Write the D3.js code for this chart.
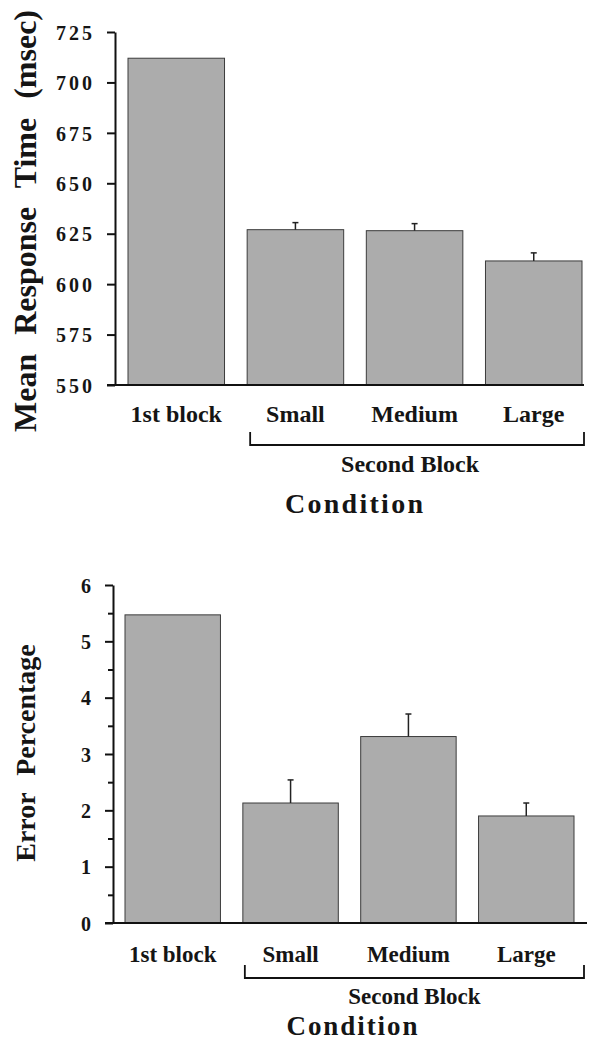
<!DOCTYPE html>
<html>
    <head>
        <meta charset="utf-8">
        <title>Response time and errors</title>
        <script src="https://d3js.org/d3.v7.min.js"></script>
        <style>
        body {
            margin: 0;
            background: #fff;
        }
        text {
            font-family: "Liberation Serif", "Times New Roman", serif;
            font-weight: bold;
            fill: #151515;
        }
        .bar {
            fill: #acacac;
            stroke: #3c3c3c;
            stroke-width: 1px;
        }
        .err {
            stroke: #222;
            stroke-width: 1.5px;
        }
        .axis path, .axis line, .line {
            stroke: #111;
            stroke-width: 2px;
            fill: none;
        }
        </style>
    </head>
    <body>
        <script>

            // ************** data *****************
            var categories = ["1st block", "Small", "Medium", "Large"];
            var groupLabel = "Second Block";

            var rtMeans = [712, 627, 626.5, 611.5];
            var rtErrors = [null, 3.5, 3.5, 4];
            var rtTicks = [550, 575, 600, 625, 650, 675, 700, 725];

            var errMeans = [5.47, 2.13, 3.31, 1.90];
            var errErrors = [null, 0.41, 0.40, 0.23];
            var errTicks = [0, 1, 2, 3, 4, 5, 6];
            var errMinor = [0.5, 1.5, 2.5, 3.5, 4.5, 5.5];

            var svg = d3.select("body").append("svg")
                .attr("width", 592)
                .attr("height", 1041);

            // ************** one panel *****************
            function drawPanel(p) {
                var g = svg.append("g");

                var y = d3.scaleLinear().domain(p.domain).range([p.bottom, p.top]);
                var x = d3.scaleBand().domain(categories)
                    .range([p.left, p.right])
                    .paddingInner(0.19)
                    .paddingOuter(0);

                var rows = categories.map(function(c, i) {
                    return {name: c, value: p.means[i], err: p.errors[i]};
                });

                // bars
                g.selectAll("rect.bar")
                    .data(rows)
                    .enter().append("rect")
                    .attr("class", "bar")
                    .attr("x", function(d) { return x(d.name); })
                    .attr("width", x.bandwidth())
                    .attr("y", function(d) { return y(d.value); })
                    .attr("height", function(d) { return y(p.domain[0]) - y(d.value); });

                // error bars (only upper half drawn)
                var eb = g.selectAll("g.eb")
                    .data(rows.filter(function(d) { return d.err != null; }))
                    .enter().append("g")
                    .attr("class", "eb");
                eb.append("line")
                    .attr("class", "err")
                    .attr("x1", function(d) { return x(d.name) + x.bandwidth() / 2; })
                    .attr("x2", function(d) { return x(d.name) + x.bandwidth() / 2; })
                    .attr("y1", function(d) { return y(d.value); })
                    .attr("y2", function(d) { return y(d.value + d.err); });
                eb.append("line")
                    .attr("class", "err")
                    .attr("x1", function(d) { return x(d.name) + x.bandwidth() / 2 - 3; })
                    .attr("x2", function(d) { return x(d.name) + x.bandwidth() / 2 + 3; })
                    .attr("y1", function(d) { return y(d.value + d.err); })
                    .attr("y2", function(d) { return y(d.value + d.err); });

                // y axis
                var axis = g.append("g")
                    .attr("class", "axis")
                    .attr("transform", "translate(" + p.axisX + ",0)")
                    .call(d3.axisLeft(y).tickValues(p.ticks).tickSize(8).tickSizeOuter(0)
                        .tickPadding(p.tickPad).tickFormat(d3.format("d")))
                    .attr("font-family", null)
                    .attr("font-size", null);
                axis.selectAll("text")
                    .style("font-size", p.tickFont + "px")
                    .style("letter-spacing", p.tickSpacing + "px")
                    .attr("dy", "0.36em");

                if (p.minor) {
                    g.append("g")
                        .attr("class", "axis")
                        .attr("transform", "translate(" + p.axisX + ",0)")
                        .call(d3.axisLeft(y).tickValues(p.minor).tickSize(5).tickFormat(""))
                        .select(".domain").remove();
                }

                // baseline
                g.append("line")
                    .attr("class", "line")
                    .attr("x1", p.axisX - 8)
                    .attr("x2", p.baseEnd)
                    .attr("y1", y(p.domain[0]))
                    .attr("y2", y(p.domain[0]));

                // category labels
                g.selectAll("text.cat")
                    .data(categories)
                    .enter().append("text")
                    .attr("class", "cat")
                    .attr("text-anchor", "middle")
                    .attr("x", function(d) { return x(d) + x.bandwidth() / 2; })
                    .attr("y", p.catY)
                    .style("font-size", p.catFont + "px")
                    .text(function(d) { return d; });

                // bracket under the second block
                var bx0 = x(categories[1]) + p.brL;
                var bx1 = x(categories[3]) + x.bandwidth() + p.brR;
                g.append("path")
                    .attr("d", "M" + bx0 + "," + p.brTop + "V" + p.brY + "H" + bx1 + "V" + p.brTop)
                    .style("fill", "none")
                    .style("stroke", "#111")
                    .style("stroke-width", 1.8);

                g.append("text")
                    .attr("text-anchor", "middle")
                    .attr("x", (bx0 + bx1) / 2 + p.groupShift)
                    .attr("y", p.groupY)
                    .style("font-size", p.catFont + "px")
                    .text(groupLabel);

                // axis titles
                g.append("text")
                    .attr("text-anchor", "middle")
                    .attr("x", p.condX)
                    .attr("y", p.condY)
                    .attr("textLength", p.condLen)
                    .attr("lengthAdjust", "spacing")
                    .style("font-size", p.condFont + "px")
                    .text("Condition");

                g.append("text")
                    .attr("text-anchor", "middle")
                    .attr("transform", "translate(" + p.titleX + "," + p.titleY + ") rotate(-90)")
                    .style("font-size", p.titleFont + "px")
                    .style("word-spacing", p.titleWord + "px")
                    .text(p.title);
            }

            drawPanel({
                domain: [550, 725], ticks: rtTicks, minor: null,
                means: rtMeans, errors: rtErrors,
                top: 32, bottom: 385, left: 128, right: 582, axisX: 115, baseEnd: 584,
                tickPad: 12, tickFont: 20, tickSpacing: 3,
                catY: 422, catFont: 24,
                brL: 3, brR: 2, brTop: 432, brY: 445, groupY: 472, groupShift: -7,
                condX: 354, condY: 513, condLen: 138, condFont: 28,
                title: "Mean Response Time (msec)", titleX: 36, titleY: 221, titleFont: 32, titleWord: 11
            });

            drawPanel({
                domain: [0, 6], ticks: errTicks, minor: errMinor,
                means: errMeans, errors: errErrors,
                top: 585, bottom: 923, left: 125, right: 574, axisX: 113, baseEnd: 587,
                tickPad: 14, tickFont: 20, tickSpacing: 0,
                catY: 962, catFont: 23,
                brL: 2, brR: 10, brTop: 965, brY: 978, groupY: 1004, groupShift: 0,
                condX: 352, condY: 1035, condLen: 131, condFont: 27,
                title: "Error Percentage", titleX: 35, titleY: 753, titleFont: 28, titleWord: 10
            });

        </script>
    </body>
</html>
